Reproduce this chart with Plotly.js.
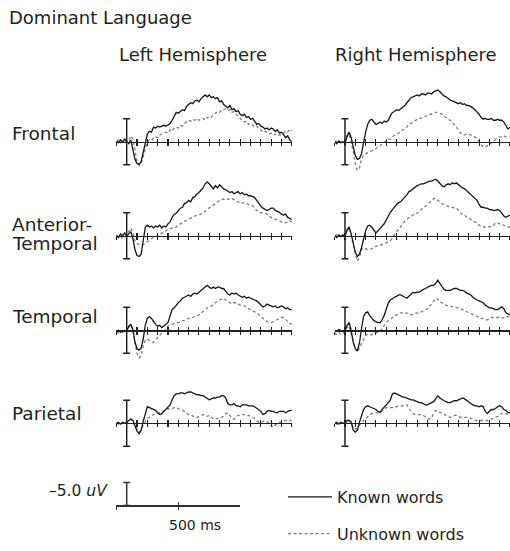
<!DOCTYPE html>
<html><head><meta charset="utf-8">
<script src="https://cdn.plot.ly/plotly-3.0.1.min.js"></script>
<style>html,body{margin:0;padding:0;background:#fff}#chart{width:510px;height:551px}</style>
</head><body><div id="chart"></div>
<script>
// time axis (ms)
const timeMs = [-100,-80,-60,-40,-20,0,20,40,60,80,100,120,140,160,180,200,220,240,260,280,300,320,340,360,380,400,420,440,460,480,500,520,540,560,580,600,620,640,660,680,700,720,740,760,780,800,820,840,860,880,900,920,940,960,980,1000,1020,1040,1060,1080,1100,1120,1140,1160,1180,1200,1220,1240,1260,1280,1300,1320,1340,1360,1380,1400,1420,1440,1460,1480,1500,1520,1540,1560,1580,1600];
const regions = ['Frontal', 'Anterior-', 'Temporal', 'Temporal', 'Parietal'];
const hemispheres = ['Left Hemisphere', 'Right Hemisphere'];
const seriesNames = ['Known words', 'Unknown words'];

// amplitudes in uV (negative plotted up)
const leftFrontalKnown = [
-0.2,0.2,-0.4,0,-0.6,-0.2,0.4,-0.4,1.7,3.8,
4.7,4.9,4.3,2.1,0,-1.7,-2.3,-2.1,-3.2,-3.0,
-3.4,-3.2,-3.4,-3.6,-3.4,-3.8,-4.0,-4.7,-5.7,-6.4,
-6.2,-6.6,-7.0,-6.8,-7.7,-8.1,-8.5,-8.3,-8.9,-9.1,
-8.7,-9.4,-9.8,-10.2,-9.8,-10.2,-9.6,-9.8,-9.4,-9.6,
-8.7,-8.9,-8.1,-7.7,-7.4,-7.9,-7.0,-7.2,-6.6,-6.8,
-6.0,-5.7,-6.0,-5.3,-5.5,-4.9,-5.1,-4.5,-3.8,-4.0,
-3.4,-3.2,-2.8,-3.0,-2.6,-3.0,-2.8,-2.3,-2.6,-1.9,
-2.1,-1.5,-0.9,-1.3,-0.4,0];
const leftFrontalUnknown = [
0,-0.4,0.2,-0.2,0,-0.4,-0.4,-1.3,-0.6,2.1,
4.3,5.1,4.7,3.2,1.3,0,-0.4,-0.2,-0.9,-1.1,
-0.9,-1.5,-1.7,-1.9,-2.1,-1.9,-2.6,-2.3,-3.0,-3.2,
-3.0,-3.6,-3.4,-4.0,-4.3,-4.7,-4.5,-4.9,-4.7,-5.1,
-4.7,-4.9,-5.1,-4.7,-5.3,-5.5,-5.3,-6.0,-6.2,-6.6,
-6.4,-7.0,-7.0,-7.2,-6.8,-7.0,-6.4,-6.6,-6.0,-5.5,
-5.1,-4.5,-4.3,-4.5,-3.8,-4.0,-3.6,-3.2,-3.4,-2.8,
-2.6,-2.1,-2.3,-1.9,-1.7,-1.9,-1.5,-1.7,-1.3,-1.5,
-1.5,-1.9,-2.3,-2.1,-2.8,-2.3];
const leftAntTempKnown = [
-0.2,0.4,-0.4,0,-0.6,0.2,-0.4,-0.9,0.6,3.0,
4.3,4.5,4.0,1.1,-1.9,-2.3,-1.9,-2.1,-1.7,-2.1,
-1.9,-2.3,-1.7,-2.1,-1.9,-2.6,-3.0,-4.0,-4.7,-4.9,
-5.5,-6.0,-6.2,-7.0,-7.2,-7.7,-7.4,-8.3,-8.5,-9.1,
-9.4,-10.0,-10.4,-11.3,-11.7,-11.3,-10.6,-10.2,-10.9,-10.4,
-11.1,-10.6,-10.2,-10.0,-9.6,-9.4,-9.6,-9.1,-9.4,-9.6,
-9.1,-9.4,-8.9,-9.1,-8.7,-8.7,-8.5,-8.3,-7.7,-7.0,
-6.4,-6.0,-5.7,-5.5,-5.7,-6.0,-6.0,-5.5,-5.3,-5.1,
-4.7,-4.5,-4.7,-4.0,-3.8,-3.4];
const leftAntTempUnknown = [
0.4,0.2,0.6,0.2,0.4,0,-0.9,-1.7,-0.6,1.1,
1.7,1.9,2.1,1.9,1.7,1.3,0.9,0.6,0.4,0.2,
0,-0.2,-0.6,-0.6,-1.1,-1.3,-1.5,-1.7,-1.7,-1.9,
-2.3,-2.6,-2.8,-3.2,-3.4,-3.6,-3.8,-4.0,-4.3,-4.5,
-4.5,-4.7,-5.1,-5.3,-5.7,-6.0,-6.4,-6.6,-7.0,-7.4,
-7.7,-7.9,-7.9,-8.1,-7.9,-8.1,-8.1,-7.9,-7.7,-7.4,
-7.0,-7.2,-7.0,-7.0,-6.8,-6.6,-6.6,-6.0,-5.5,-5.1,
-5.1,-4.9,-4.9,-4.7,-4.3,-4.0,-3.8,-3.6,-3.4,-3.2,
-3.0,-3.0,-2.8,-3.0,-3.2,-3.0];
const leftTemporalKnown = [
0.2,0,0.4,0.2,0,0.2,-0.9,-1.3,-0.2,2.6,
4.0,4.3,3.8,1.9,-1.1,-2.6,-3.0,-2.6,-1.9,-1.3,
-0.9,-1.1,-0.6,-0.9,-1.3,-1.7,-3.0,-4.5,-4.9,-5.5,
-6.0,-6.4,-7.0,-7.2,-7.4,-7.7,-7.4,-7.9,-8.1,-7.9,
-8.3,-8.7,-9.1,-9.4,-9.8,-9.4,-9.1,-9.4,-9.1,-9.4,
-9.4,-9.1,-9.1,-8.5,-7.9,-7.7,-8.1,-7.9,-8.1,-7.7,
-7.4,-7.2,-7.4,-7.0,-7.2,-7.0,-6.8,-6.6,-6.4,-6.0,
-5.5,-5.1,-5.3,-5.7,-5.5,-5.3,-5.1,-5.3,-4.9,-5.1,
-5.3,-5.1,-4.7,-4.9,-4.5,-4.5];
const leftTemporalUnknown = [
0.4,0.6,0.2,0.4,0.2,0.4,-0.6,-1.3,0,3.0,
5.1,6.0,5.5,3.4,2.1,1.9,2.3,2.6,2.6,2.1,
1.7,1.3,0.6,0.2,-0.4,-0.9,-1.1,-1.3,-1.5,-1.7,
-1.7,-1.9,-2.1,-2.1,-2.3,-2.6,-2.6,-2.8,-3.0,-3.0,
-3.4,-3.8,-4.3,-4.7,-4.9,-5.1,-5.3,-5.5,-6.0,-6.4,
-6.6,-6.8,-7.0,-6.6,-6.2,-6.0,-5.7,-6.0,-6.0,-5.7,
-5.5,-5.5,-5.3,-5.1,-4.7,-4.5,-4.3,-4.0,-3.8,-3.4,
-3.0,-2.6,-2.3,-1.9,-1.7,-1.7,-1.9,-2.1,-2.3,-2.6,
-2.8,-2.8,-2.3,-1.9,-1.5,-1.3];
const leftParietalKnown = [
0,-0.2,0.2,-0.2,0,-0.2,-0.6,-0.9,-0.6,0.6,
1.7,2.3,1.5,-0.4,-2.3,-3.6,-3.4,-3.2,-3.0,-2.8,
-2.3,-1.9,-2.1,-2.6,-3.0,-3.4,-4.0,-5.1,-6.0,-6.4,
-6.4,-6.6,-6.6,-6.4,-6.6,-6.8,-6.8,-6.6,-6.4,-6.2,
-6.2,-6.0,-6.0,-5.7,-5.5,-5.1,-5.3,-5.5,-5.5,-5.7,
-5.7,-6.0,-6.0,-5.5,-4.3,-4.0,-4.0,-4.3,-3.8,-3.8,
-3.6,-4.0,-4.0,-4.0,-3.8,-3.8,-3.8,-3.6,-3.2,-3.0,
-2.6,-1.9,-2.1,-2.6,-2.8,-2.6,-2.6,-2.3,-2.3,-2.6,
-2.6,-2.6,-2.3,-2.6,-2.8,-2.8];
const leftParietalUnknown = [
0,0.2,-0.2,0,-0.2,0,-0.6,-0.9,-0.4,0.6,
1.3,1.9,1.5,0.4,-0.4,-1.1,-1.3,-1.7,-1.9,-2.1,
-2.1,-2.3,-2.6,-2.6,-3.0,-3.2,-3.0,-3.2,-3.4,-3.4,
-3.2,-3.0,-2.8,-2.6,-2.1,-1.9,-1.9,-1.5,-1.3,-1.3,
-1.5,-1.7,-1.9,-1.7,-1.5,-1.7,-1.3,-0.9,-0.9,-1.1,
-1.3,-1.3,-1.5,-2.1,-2.3,-1.7,-1.1,-0.9,-1.3,-1.7,
-1.7,-1.9,-1.9,-1.9,-1.7,-1.5,-1.3,-1.1,-0.6,-0.2,
-0.2,-0.4,-0.6,-0.4,0,0.4,0.9,0.4,0,-0.2,
-0.2,-0.4,-0.6,-0.6,-0.6,-0.6];
const rightFrontalKnown = [
0,0.4,-0.2,0.2,0,0.4,-1.3,-2.1,-0.9,1.3,
3.0,3.8,3.6,2.6,0,-2.1,-3.8,-4.7,-4.9,-4.3,
-3.8,-4.0,-4.3,-4.0,-4.5,-4.3,-4.7,-5.7,-6.4,-6.6,
-7.0,-6.8,-7.2,-7.4,-7.9,-8.5,-9.1,-9.6,-9.8,-10.0,
-10.2,-10.0,-10.4,-10.4,-10.2,-10.6,-10.6,-10.4,-10.9,-11.1,
-11.3,-10.9,-10.4,-10.0,-9.8,-9.4,-9.1,-8.9,-8.7,-8.5,
-8.3,-8.5,-8.1,-8.3,-7.9,-7.9,-7.7,-7.4,-7.0,-6.6,
-6.0,-5.3,-4.9,-5.1,-4.9,-4.9,-5.1,-4.7,-4.7,-4.9,
-4.7,-4.7,-4.3,-3.6,-2.8,-3.2];
const rightFrontalUnknown = [
0,-0.2,0.2,0,-0.2,0,-1.1,-1.7,0,2.1,
4.7,6.2,5.7,3.8,2.8,2.6,2.3,2.1,1.9,1.7,
1.5,1.1,0.9,0.4,0,-0.2,-0.6,-0.6,-1.1,-1.5,
-1.7,-1.9,-2.1,-2.6,-2.8,-3.2,-3.8,-4.0,-4.3,-4.7,
-4.9,-5.1,-5.1,-5.3,-5.5,-5.7,-6.0,-6.0,-6.2,-6.4,
-6.4,-6.2,-6.0,-5.5,-5.3,-4.9,-4.7,-4.3,-3.8,-3.2,
-2.6,-1.9,-1.5,-1.5,-1.7,-1.7,-1.5,-1.3,-1.1,-0.6,
0,0.6,1.1,1.1,0.9,0.6,0.2,-0.2,-0.6,-0.9,
-1.1,-1.1,-1.3,-1.1,-1.1,-1.1];
const rightAntTempKnown = [
0,0.4,-0.2,0.2,-0.2,0.2,-1.3,-1.9,-0.4,1.9,
3.6,4.5,4.0,2.6,0.4,-1.1,-2.1,-2.3,-1.9,-1.1,
-0.6,-1.1,-1.5,-2.1,-2.6,-3.4,-4.5,-5.1,-5.7,-6.4,
-6.8,-7.2,-7.4,-7.9,-8.3,-8.9,-9.6,-9.8,-10.2,-10.6,
-10.9,-11.1,-11.3,-11.3,-11.5,-11.7,-11.9,-11.9,-12.1,-12.3,
-11.9,-11.3,-10.9,-10.6,-11.1,-11.3,-11.1,-11.5,-11.3,-11.5,
-11.1,-10.9,-10.4,-10.2,-9.8,-9.4,-8.9,-8.7,-8.3,-7.7,
-6.8,-6.2,-6.2,-6.0,-6.0,-5.7,-5.7,-5.5,-5.5,-5.7,
-5.5,-4.9,-4.3,-4.0,-4.3,-4.5];
const rightAntTempUnknown = [
0,-0.2,0.2,0,0.2,0,-1.1,-1.7,0,2.1,
3.8,5.5,4.7,3.0,2.6,2.8,3.0,3.0,2.8,2.6,
2.3,2.1,2.1,1.9,1.7,1.5,1.3,1.1,0.4,-0.2,
-0.9,-1.5,-2.1,-2.8,-3.2,-3.6,-4.0,-4.3,-4.5,-4.9,
-4.9,-5.1,-5.7,-6.2,-6.4,-6.8,-7.2,-7.7,-8.1,-8.1,
-7.7,-7.2,-7.0,-6.8,-6.6,-6.4,-6.2,-6.2,-6.0,-6.0,
-5.5,-5.1,-4.5,-4.5,-4.0,-3.8,-3.6,-3.2,-3.0,-2.8,
-2.3,-2.1,-1.9,-1.9,-2.1,-1.9,-2.1,-2.3,-2.8,-2.8,
-2.6,-2.3,-2.3,-2.1,-1.9,-1.9];
const rightTemporalKnown = [
0,0.2,-0.2,0,0.2,0,-1.1,-1.7,0,2.6,
4.0,4.5,2.8,-0.4,-3.0,-3.8,-4.0,-3.2,-2.6,-2.1,
-1.9,-1.7,-1.7,-2.3,-3.2,-4.7,-6.0,-6.6,-7.0,-7.2,
-7.4,-7.7,-7.7,-7.4,-7.2,-7.0,-7.4,-7.9,-8.3,-8.1,
-8.3,-8.3,-8.7,-8.9,-9.1,-9.4,-9.6,-9.8,-9.8,-10.2,
-10.9,-10.2,-9.4,-8.9,-8.7,-8.7,-8.7,-8.9,-9.1,-9.1,
-8.9,-8.7,-8.7,-8.5,-8.1,-7.9,-7.7,-7.2,-6.8,-6.6,
-6.4,-6.2,-6.0,-5.5,-5.1,-4.9,-4.9,-4.7,-4.5,-4.5,
-4.9,-5.1,-4.7,-3.8,-3.6,-3.4];
const rightTemporalUnknown = [
0.6,0.9,0.4,0.9,0.6,0.4,-0.6,-0.9,0.9,2.8,
4.0,4.7,3.8,2.6,1.7,1.1,0.9,1.1,0.9,0.9,
0.6,0.4,0.2,-0.4,-1.1,-1.7,-2.1,-2.3,-2.8,-3.0,
-3.4,-3.6,-3.8,-3.8,-3.6,-3.8,-3.6,-3.4,-3.4,-3.6,
-3.8,-3.8,-4.0,-4.3,-4.5,-4.7,-5.3,-5.7,-6.4,-7.0,
-6.8,-6.2,-6.0,-5.7,-5.5,-5.3,-5.3,-5.1,-5.1,-4.9,
-4.9,-4.7,-4.5,-4.3,-4.0,-3.8,-3.6,-3.4,-3.2,-3.0,
-2.8,-2.6,-2.6,-2.3,-2.3,-2.6,-2.8,-2.8,-2.8,-2.8,
-2.8,-2.6,-2.8,-3.0,-3.0,-3.0];
const rightParietalKnown = [
0,-0.2,0.2,-0.2,0,-0.2,-0.6,-0.6,-0.2,1.5,
1.9,1.5,-0.2,-1.7,-3.0,-3.6,-3.8,-3.6,-3.4,-3.2,
-3.0,-2.6,-2.3,-3.0,-3.6,-4.0,-4.5,-5.1,-6.4,-6.6,
-6.4,-6.2,-6.0,-5.7,-5.7,-5.5,-5.3,-5.1,-5.1,-4.9,
-4.7,-4.5,-4.5,-4.3,-4.0,-4.0,-4.3,-4.5,-4.7,-5.3,
-6.0,-5.5,-5.1,-4.9,-4.7,-4.5,-4.5,-4.7,-4.9,-4.9,
-5.1,-5.3,-5.5,-5.3,-4.9,-4.5,-4.3,-4.0,-3.8,-3.8,
-3.6,-3.8,-3.6,-2.6,-2.1,-2.6,-3.0,-3.0,-3.2,-3.6,
-3.8,-3.6,-3.0,-2.8,-2.3,-2.3];
const rightParietalUnknown = [
0,0.2,-0.2,0,0.2,0,-0.4,-0.6,-0.4,0.9,
1.3,1.1,0.4,-0.2,-0.6,-1.1,-1.5,-1.9,-2.1,-2.3,
-2.3,-2.3,-2.3,-2.8,-3.2,-3.4,-3.4,-3.4,-3.4,-3.6,
-3.6,-3.8,-3.8,-3.8,-4.0,-4.0,-3.2,-2.6,-2.1,-1.9,
-1.9,-1.9,-1.9,-1.7,-1.3,-1.1,-0.9,-1.3,-2.1,-2.8,
-2.6,-2.3,-2.3,-2.1,-1.7,-1.5,-1.3,-1.5,-1.7,-1.7,
-1.5,-1.3,-1.3,-1.3,-1.3,-1.3,-1.1,-0.9,-0.6,-0.6,
-0.6,-0.6,-0.6,-0.6,-0.6,-0.6,-0.9,-1.1,-1.3,-1.5,
-1.7,-2.1,-2.3,-2.1,-1.9,-1.9];

const calibUV = [5];            // +/- 5 uV calibration bar
const scaleBarUV = [5];         // -5.0 uV scale
const scaleTicksMs = [-100, 500];
const panelTicksMs = 100;

// ---------- geometry ----------
const W = 510, H = 551;
const pxPerMs = 0.1032, pxPerUV = 4.7;
const colOrigin = [126.7, 345];
const rowBase = [145, 241, 337.7, 432.7];
const xRange = [-100, 1600];
const FONT = 'DejaVu Sans, Arial, sans-serif';
const TXT = '#231f20';
const KNOWN_C = '#161616', UNK_C = '#7d7d7d';

const panels = [
  [leftFrontalKnown, leftFrontalUnknown, rightFrontalKnown, rightFrontalUnknown],
  [leftAntTempKnown, leftAntTempUnknown, rightAntTempKnown, rightAntTempUnknown],
  [leftTemporalKnown, leftTemporalUnknown, rightTemporalKnown, rightTemporalUnknown],
  [leftParietalKnown, leftParietalUnknown, rightParietalKnown, rightParietalUnknown]
];

const data = [];
const layout = {
  width: W, height: H, margin: {l:0, r:0, t:0, b:0},
  paper_bgcolor: '#fff', plot_bgcolor: 'rgba(0,0,0,0)',
  showlegend: true,
  legend: {x: 283/W, xanchor: 'left', y: 1 - 491/H, yanchor: 'top',
    font: {family: FONT, size: 16, color: TXT}, tracegroupgap: 13,
    itemwidth: 44, bgcolor: 'rgba(0,0,0,0)', borderwidth: 0, traceorder: 'grouped'},
  annotations: [], shapes: []
};

function xDomain(c, r0, r1) {
  const a = colOrigin[c] + r0 * pxPerMs, b = colOrigin[c] + r1 * pxPerMs;
  return [Math.max(0, a / W), Math.min(1, b / W)];
}

for (let r = 0; r < 4; r++) {
  for (let c = 0; c < 2; c++) {
    const k = r * 2 + c + 1;
    const ko = k + 8;
    const B = rowBase[r];
    const top = B - 62, bot = B + 32;
    const pos = 1 - B / H;
    const xa = 'xaxis' + (k === 1 ? '' : k), ya = 'yaxis' + (k === 1 ? '' : k);
    const xid = 'x' + (k === 1 ? '' : k), yid = 'y' + (k === 1 ? '' : k);
    layout[xa] = {domain: xDomain(c, xRange[0], xRange[1]), range: xRange.slice(), anchor: 'free', position: pos,
      showline: true, linecolor: '#222', linewidth: 1.2, ticks: 'outside', ticklen: 3, tickwidth: 1.1, tickcolor: '#222',
      tick0: 0, dtick: panelTicksMs, showticklabels: false, showgrid: false, zeroline: false, fixedrange: true};
    layout['xaxis' + ko] = {overlaying: xid, range: xRange.slice(), anchor: 'free', position: pos,
      showline: false, ticks: 'inside', ticklen: 3, tickwidth: 1.1, tickcolor: '#222',
      tick0: 0, dtick: panelTicksMs, showticklabels: false, showgrid: false, zeroline: false, fixedrange: true};
    layout[ya] = {domain: [1 - bot / H, 1 - top / H], range: [(bot - B) / pxPerUV, (top - B) / pxPerUV],
      anchor: xid, visible: false, fixedrange: true};
    const arrs = panels[r];
    const kn = arrs[c * 2], un = arrs[c * 2 + 1];
    data.push({type: 'scatter', mode: 'lines', x: timeMs, y: un, xaxis: xid, yaxis: yid,
      name: seriesNames[1], legendgroup: 'u', showlegend: k === 1, legendrank: 2,
      line: {color: UNK_C, width: 1.3, dash: '3px,2.5px'}, hoverinfo: 'skip'});
    data.push({type: 'scatter', mode: 'lines', x: timeMs, y: kn, xaxis: xid, yaxis: yid,
      name: seriesNames[0], legendgroup: 'k', showlegend: k === 1, legendrank: 1,
      line: {color: KNOWN_C, width: 1.3}, hoverinfo: 'skip'});
    data.push({type: 'scatter', mode: 'markers', x: [0], y: [0], xaxis: 'x' + ko, yaxis: yid,
      showlegend: false, hoverinfo: 'skip', marker: {size: 1, color: 'rgba(0,0,0,0)'},
      error_y: {type: 'data', array: calibUV, symmetric: true, width: 3.5, thickness: 1.5, color: '#222'}});
  }
}

// scale bar panel
{
  const B = 516.7, pos = 1 - B / H;
  const sr = [-100, 1100];
  layout.xaxis17 = {domain: xDomain(0, sr[0], sr[1]), range: sr, anchor: 'free', position: pos,
    showline: true, linecolor: '#333', linewidth: 1.2, ticks: 'outside', ticklen: 3, tickwidth: 1.1, tickcolor: '#333',
    tickvals: scaleTicksMs, showticklabels: false, showgrid: false, zeroline: false, fixedrange: true};
  layout.xaxis18 = {overlaying: 'x17', range: sr, anchor: 'free', position: pos,
    showline: false, ticks: 'inside', ticklen: 3, tickwidth: 1.1, tickcolor: '#333',
    tickvals: scaleTicksMs, showticklabels: false, showgrid: false, zeroline: false, fixedrange: true};
  layout.yaxis9 = {domain: [1 - 525 / H, 1 - 488 / H], range: [(525 - B) / pxPerUV, (488 - B) / pxPerUV],
    anchor: 'x17', visible: false, fixedrange: true};
  data.push({type: 'scatter', mode: 'markers', x: [0], y: [0], xaxis: 'x17', yaxis: 'y9',
    showlegend: false, hoverinfo: 'skip', marker: {size: 1, color: 'rgba(0,0,0,0)'},
    error_y: {type: 'data', symmetric: false, array: [0], arrayminus: scaleBarUV, width: 3.5, thickness: 1.5, color: '#333'}});
  data.push({type: 'scatter', mode: 'markers', x: [], y: [], xaxis: 'x18', yaxis: 'y9',
    showlegend: false, hoverinfo: 'skip'});
}

function ann(text, px, py, xanchor, size, extra) {
  layout.annotations.push(Object.assign({text: text, x: px / W, y: 1 - py / H, xref: 'paper', yref: 'paper',
    xanchor: xanchor, yanchor: 'middle', showarrow: false, font: {family: FONT, size: size, color: TXT}}, extra || {}));
}
ann('Dominant Language', 7, 18, 'left', 18);
ann(hemispheres[0], 193, 56, 'center', 18);
ann(hemispheres[1], 416, 56, 'center', 18);
ann(regions[0], 10, 136, 'left', 18.5);
ann(regions[1], 10, 229, 'left', 18.5);
ann(regions[2], 10, 249, 'left', 18.5);
ann(regions[3], 10, 324, 'left', 18.5);
ann(regions[4], 10, 422.5, 'left', 18.5);
ann('\u20135.0 <i>uV</i>', 110, 502, 'right', 15.5);
ann('500 ms', 195, 537, 'center', 14);

Plotly.newPlot('chart', data, layout, {staticPlot: true, displayModeBar: false});
</script></body></html>
